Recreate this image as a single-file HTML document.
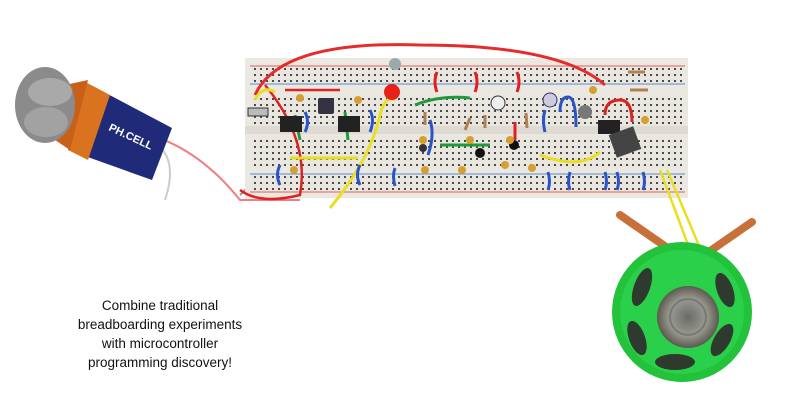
<!DOCTYPE html>
<html><head><meta charset="utf-8"><style>
html,body{margin:0;padding:0;background:#fff;width:800px;height:403px;overflow:hidden}
svg{display:block}
</style></head><body>
<svg width="800" height="403" viewBox="0 0 800 403" xmlns="http://www.w3.org/2000/svg">
<defs>
<pattern id="dots" width="6" height="6" patternUnits="userSpaceOnUse">
<rect width="6" height="6" fill="#e9e6df"/>
<rect x="2" y="2" width="2" height="2" fill="#4a4a4a"/>
</pattern>
<radialGradient id="cone" cx="50%" cy="50%" r="50%">
<stop offset="0" fill="#555" stop-color="#6a6a6a"/><stop offset="0.6" stop-color="#9a9a90"/><stop offset="1" stop-color="#5c5a50"/>
</radialGradient>
</defs>

<!-- battery wires -->
<path d="M150 135 Q200 150 240 200 L300 200" stroke="#f08080" stroke-width="2" fill="none"/>
<path d="M150 140 Q180 155 165 200" stroke="#ccc" stroke-width="2" fill="none"/>
<path d="M240 195 Q255 180 262 170" stroke="#999" stroke-width="2" fill="none"/>

<!-- battery -->
<polygon points="85,82 172,128 152,180 68,150" fill="#1f2a78"/>
<polygon points="85,82 110,95 88,160 68,150" fill="#d9731f"/>
<polygon points="65,85 88,80 70,150 55,140" fill="#c8601a"/>
<ellipse cx="45" cy="105" rx="30" ry="38" fill="#8b8b8b"/>
<ellipse cx="50" cy="92" rx="22" ry="14" fill="#a9a9a9"/>
<ellipse cx="46" cy="122" rx="22" ry="15" fill="#a2a2a2"/>
<text x="108" y="130" fill="#fff" font-family="Liberation Sans, sans-serif" font-size="11" font-weight="bold" transform="rotate(25 108 130)">PH.CELL</text>

<!-- breadboard -->
<rect x="245" y="58" width="443" height="140" fill="#ebe8e1"/>
<rect x="252" y="68" width="430" height="14" fill="url(#dots)"/>
<rect x="252" y="96" width="430" height="30" fill="url(#dots)"/>
<rect x="245" y="126" width="443" height="8" fill="#dedad2"/>
<rect x="252" y="136" width="430" height="32" fill="url(#dots)"/>
<rect x="252" y="176" width="430" height="14" fill="url(#dots)"/>
<line x1="250" y1="66" x2="685" y2="66" stroke="#e06060" stroke-width="1"/>
<line x1="250" y1="84" x2="685" y2="84" stroke="#5a8ad0" stroke-width="1"/>
<line x1="250" y1="174" x2="685" y2="174" stroke="#5a8ad0" stroke-width="1"/>
<line x1="250" y1="192" x2="685" y2="192" stroke="#e06060" stroke-width="1"/>

<!-- red arc wires -->
<path d="M255 95 Q280 40 420 45 Q560 45 605 85" stroke="#e52b2b" stroke-width="3" fill="none"/>
<path d="M265 85 Q310 140 300 195 Q260 205 240 190" stroke="#dd2222" stroke-width="2.5" fill="none"/>
<path d="M285 90 L340 90" stroke="#dd2222" stroke-width="2.5"/>
<path d="M437 72 q-4 10 0 20 M475 72 q4 10 0 20 M517 72 q4 10 0 20 M515 122 l0 18" stroke="#e02020" stroke-width="3" fill="none"/>
<path d="M605 115 Q605 100 620 100 Q632 100 632 122" stroke="#e02020" stroke-width="3" fill="none"/>

<!-- yellow wires -->
<path d="M330 208 Q370 160 380 115 Q385 95 395 100" stroke="#e8df20" stroke-width="3" fill="none"/>
<path d="M290 158 L358 158" stroke="#e8df20" stroke-width="3"/>
<path d="M540 155 Q580 170 600 152" stroke="#e8df20" stroke-width="3" fill="none"/>
<path d="M255 100 Q262 85 275 92" stroke="#e8df20" stroke-width="3" fill="none"/>
<path d="M660 170 L690 250 M667 170 L700 248" stroke="#e8df20" stroke-width="2.5"/>

<!-- green wires -->
<path d="M415 105 Q440 95 470 98 M440 145 L490 145 M295 115 L300 140 M345 112 L348 140" stroke="#1f9a3a" stroke-width="3" fill="none"/>

<!-- blue wires -->
<g stroke="#2854c8" stroke-width="3" fill="none">
<path d="M280 165 q-5 10 0 20 M360 165 q-5 10 0 20 M370 110 q5 10 0 22 M395 168 q-3 8 0 18 M430 120 q5 15 -2 35"/>
<path d="M545 110 q-3 10 0 22 M560 112 q0 -15 8 -15 q8 0 8 30 M548 172 q3 10 0 18 M570 172 q-3 10 0 18"/>
<path d="M605 172 q3 10 0 18 M617 172 q3 10 0 18 M643 172 q3 10 0 18 M305 112 q5 10 0 20"/>
</g>

<!-- ICs and components -->
<rect x="280" y="116" width="22" height="16" fill="#222"/>
<rect x="338" y="116" width="22" height="16" fill="#222"/>
<rect x="598" y="120" width="22" height="14" fill="#222"/>
<rect x="612" y="130" width="26" height="24" fill="#444" transform="rotate(-20 625 142)"/>
<rect x="318" y="98" width="16" height="16" fill="#334" rx="2"/>
<rect x="248" y="108" width="20" height="8" fill="#bbb" stroke="#333"/>
<circle cx="392" cy="92" r="8" fill="#e8201a"/>
<circle cx="395" cy="64" r="6" fill="#9aa"/>
<circle cx="498" cy="103" r="7" fill="#eee" stroke="#333"/>
<circle cx="550" cy="100" r="7" fill="#ccd" stroke="#336"/>
<circle cx="585" cy="112" r="7" fill="#777"/>
<circle cx="480" cy="153" r="5" fill="#111"/>
<circle cx="514" cy="145" r="5" fill="#111"/>
<circle cx="423" cy="148" r="4" fill="#333"/>
<g fill="#d6a030">
<circle cx="300" cy="98" r="4"/><circle cx="358" cy="100" r="4"/><circle cx="423" cy="140" r="4"/>
<circle cx="425" cy="170" r="4"/><circle cx="462" cy="170" r="4"/><circle cx="505" cy="165" r="4"/>
<circle cx="532" cy="168" r="4"/><circle cx="294" cy="170" r="4"/><circle cx="593" cy="90" r="4"/>
<circle cx="645" cy="120" r="4"/><circle cx="470" cy="140" r="4"/><circle cx="510" cy="140" r="4"/>
</g>
<g stroke="#b08050" stroke-width="3">
<line x1="425" y1="112" x2="425" y2="125"/><line x1="470" y1="118" x2="465" y2="130"/>
<line x1="485" y1="115" x2="485" y2="128"/><line x1="526" y1="113" x2="527" y2="128"/>
<line x1="628" y1="72" x2="645" y2="72"/><line x1="630" y1="90" x2="648" y2="90"/>
</g>

<!-- speaker -->
<path d="M620 215 L682 258 M752 222 L700 258" stroke="#c8703a" stroke-width="8" stroke-linecap="round"/>
<circle cx="682" cy="312" r="70" fill="#22c33a"/>
<circle cx="682" cy="312" r="62" fill="#2bd04a"/>
<ellipse cx="642" cy="287" rx="8" ry="20" fill="#2e3a2e" transform="rotate(20 642 287)"/>
<ellipse cx="725" cy="290" rx="8" ry="18" fill="#2e3a2e" transform="rotate(-20 725 290)"/>
<ellipse cx="637" cy="338" rx="8" ry="18" fill="#2e3a2e" transform="rotate(-20 637 338)"/>
<ellipse cx="722" cy="340" rx="8" ry="18" fill="#2e3a2e" transform="rotate(30 722 340)"/>
<ellipse cx="675" cy="362" rx="20" ry="8" fill="#2e3a2e"/>
<circle cx="688" cy="317" r="31" fill="url(#cone)"/>
<circle cx="688" cy="317" r="18" fill="none" stroke="#777" stroke-width="2"/>

<!-- caption -->
<g font-family="Liberation Sans, sans-serif" font-size="13.5" fill="#111" text-anchor="middle">
<text x="160" y="310">Combine traditional</text>
<text x="160" y="329">breadboarding experiments</text>
<text x="160" y="348">with microcontroller</text>
<text x="160" y="367">programming discovery!</text>
</g>
</svg>
</body></html>
